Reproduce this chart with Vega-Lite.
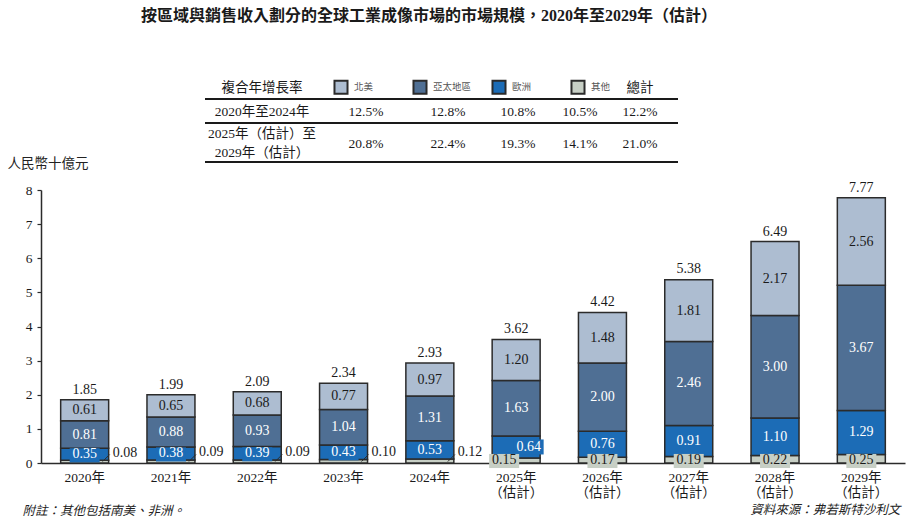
{
  "$schema": "https://vega.github.io/schema/vega-lite/v6.json",
  "autosize": {"type": "none"},
  "padding": {"left": 41, "top": 190, "right": 19, "bottom": 65},
  "width": 864,
  "height": 273,
  "background": "white",
  "title": {
    "text": "按區域與銷售收入劃分的全球工業成像市場的市場規模，2020年至2029年（估計）",
    "fontSize": 16,
    "fontWeight": "bold",
    "font": "Liberation Serif, Noto Sans CJK TC",
    "color": "#1a1a1a",
    "anchor": "middle",
    "dx": -44,
    "offset": 55
  },
  "config": {"view": {"stroke": null}},
  "datasets": {
    "main": [
      {"year": "2020", "region": "其他", "value": 0.08},
      {"year": "2020", "region": "歐洲", "value": 0.35},
      {"year": "2020", "region": "亞太地區", "value": 0.81},
      {"year": "2020", "region": "北美", "value": 0.61},
      {"year": "2021", "region": "其他", "value": 0.09},
      {"year": "2021", "region": "歐洲", "value": 0.38},
      {"year": "2021", "region": "亞太地區", "value": 0.88},
      {"year": "2021", "region": "北美", "value": 0.65},
      {"year": "2022", "region": "其他", "value": 0.09},
      {"year": "2022", "region": "歐洲", "value": 0.39},
      {"year": "2022", "region": "亞太地區", "value": 0.93},
      {"year": "2022", "region": "北美", "value": 0.68},
      {"year": "2023", "region": "其他", "value": 0.10},
      {"year": "2023", "region": "歐洲", "value": 0.43},
      {"year": "2023", "region": "亞太地區", "value": 1.04},
      {"year": "2023", "region": "北美", "value": 0.77},
      {"year": "2024", "region": "其他", "value": 0.12},
      {"year": "2024", "region": "歐洲", "value": 0.53},
      {"year": "2024", "region": "亞太地區", "value": 1.31},
      {"year": "2024", "region": "北美", "value": 0.97},
      {"year": "2025", "region": "其他", "value": 0.15},
      {"year": "2025", "region": "歐洲", "value": 0.64},
      {"year": "2025", "region": "亞太地區", "value": 1.63},
      {"year": "2025", "region": "北美", "value": 1.20},
      {"year": "2026", "region": "其他", "value": 0.17},
      {"year": "2026", "region": "歐洲", "value": 0.76},
      {"year": "2026", "region": "亞太地區", "value": 2.00},
      {"year": "2026", "region": "北美", "value": 1.48},
      {"year": "2027", "region": "其他", "value": 0.19},
      {"year": "2027", "region": "歐洲", "value": 0.91},
      {"year": "2027", "region": "亞太地區", "value": 2.46},
      {"year": "2027", "region": "北美", "value": 1.81},
      {"year": "2028", "region": "其他", "value": 0.22},
      {"year": "2028", "region": "歐洲", "value": 1.10},
      {"year": "2028", "region": "亞太地區", "value": 3.00},
      {"year": "2028", "region": "北美", "value": 2.17},
      {"year": "2029", "region": "其他", "value": 0.25},
      {"year": "2029", "region": "歐洲", "value": 1.29},
      {"year": "2029", "region": "亞太地區", "value": 3.67},
      {"year": "2029", "region": "北美", "value": 2.56}
    ],
    "totals": [
      {"year": "2020", "total": 1.85},
      {"year": "2021", "total": 1.99},
      {"year": "2022", "total": 2.09},
      {"year": "2023", "total": 2.34},
      {"year": "2024", "total": 2.93},
      {"year": "2025", "total": 3.62},
      {"year": "2026", "total": 4.42},
      {"year": "2027", "total": 5.38},
      {"year": "2028", "total": 6.49},
      {"year": "2029", "total": 7.77}
    ],
    "table": [
      {"r": 0, "c": 0, "t": "複合年增長率"},
      {"r": 0, "c": 5, "t": "總計"},
      {"r": 1, "c": 0, "t": "2020年至2024年"},
      {"r": 1, "c": 1, "t": "12.5%"},
      {"r": 1, "c": 2, "t": "12.8%"},
      {"r": 1, "c": 3, "t": "10.8%"},
      {"r": 1, "c": 4, "t": "10.5%"},
      {"r": 1, "c": 5, "t": "12.2%"},
      {"r": 2, "c": 0, "t": "2025年（估計）至\n2029年（估計）"},
      {"r": 2, "c": 1, "t": "20.8%"},
      {"r": 2, "c": 2, "t": "22.4%"},
      {"r": 2, "c": 3, "t": "19.3%"},
      {"r": 2, "c": 4, "t": "14.1%"},
      {"r": 2, "c": 5, "t": "21.0%"}
    ]
  },
  "layer": [
    {
      "data": {"name": "main"},
      "transform": [
        {"calculate": "indexof(['其他','歐洲','亞太地區','北美'], datum.region)", "as": "k"}
      ],
      "resolve": {"axis": {"x": "independent", "y": "independent"}},
      "layer": [
        {
          "mark": {"type": "bar", "stroke": "#2b2b2b", "strokeWidth": 1.5},
          "encoding": {
            "x": {
              "field": "year",
              "type": "nominal",
              "scale": {
                "domain": ["2020", "2021", "2022", "2023", "2024", "2025", "2026", "2027", "2028", "2029"],
                "paddingInner": 0.444,
                "paddingOuter": 0.228
              },
              "axis": {
                "title": "附註：其他包括南美、非洲。",
                "titleX": -19,
                "titleY": 47,
                "titleAlign": "left",
                "titleAngle": 0,
                "titleBaseline": "middle",
                "titleFontStyle": "italic",
                "titleFontWeight": "normal",
                "titleFontSize": 12.5,
                "titleFont": "Noto Sans CJK TC",
                "titleColor": "#222222",
                "labelAngle": 0,
                "ticks": false,
                "domainColor": "#2b2b2b",
                "domainWidth": 1.5,
                "labelPadding": 7,
                "labelFontSize": 13.5,
                "labelFont": "Liberation Serif, Noto Sans CJK TC",
                "labelColor": "#1a1a1a",
                "labelLineHeight": 15,
                "labelOverlap": false,
                "labelExpr": "toNumber(datum.value) >= 2025 ? [datum.value + '年', '（估計）'] : datum.value + '年'"
              }
            },
            "y": {
              "field": "value",
              "type": "quantitative",
              "stack": "zero",
              "scale": {"domain": [0, 8], "nice": false},
              "axis": {
                "title": "人民幣十億元",
                "titleAngle": 0,
                "titleAlign": "left",
                "titleX": -34,
                "titleY": -27,
                "titleBaseline": "middle",
                "titleFontSize": 13.5,
                "titleFontWeight": "normal",
                "titleFont": "Noto Sans CJK TC",
                "titleColor": "#222222",
                "values": [0, 1, 2, 3, 4, 5, 6, 7, 8],
                "labelOverlap": false,
                "grid": false,
                "tickSize": 4,
                "tickColor": "#2b2b2b",
                "tickWidth": 1.2,
                "domainColor": "#2b2b2b",
                "domainWidth": 1.5,
                "labelFontSize": 13.5,
                "labelFont": "Liberation Serif",
                "labelColor": "#1a1a1a",
                "labelPadding": 5
              }
            },
            "order": {"field": "k", "type": "quantitative", "sort": "ascending"},
            "color": {
              "field": "region",
              "type": "nominal",
              "scale": {
                "domain": ["北美", "亞太地區", "歐洲", "其他"],
                "range": ["#adbdd1", "#4f6f94", "#1c6cb6", "#c7cfc5"]
              },
              "legend": {
                "orient": "none",
                "legendX": 292,
                "legendY": -111,
                "direction": "horizontal",
                "title": null,
                "values": ["北美", "亞太地區", "歐洲", "其他"],
                "symbolType": "square",
                "symbolSize": 170,
                "symbolStrokeColor": "#2b2b2b",
                "symbolStrokeWidth": 2,
                "labelFontSize": 9.5,
                "labelFont": "Noto Sans CJK TC",
                "labelColor": "#555555",
                "labelOffset": 5,
                "columnPadding": 16,
                "gridAlign": "all",
                "columns": 4
              }
            }
          }
        },
        {
          "transform": [
            {"stack": "value", "groupby": ["year"], "sort": [{"field": "k"}], "as": ["v0", "v1"]},
            {"calculate": "(datum.v0 + datum.v1) / 2", "as": "mid"}
          ],
          "resolve": {"axis": {"x": "independent", "y": "independent"}},
          "layer": [
            {
              "transform": [{"filter": "datum.region === '北美'"}],
              "mark": {"type": "text", "font": "Liberation Serif", "fontSize": 14, "color": "#1a1a1a", "baseline": "middle"},
              "encoding": {
                "x": {"field": "year", "type": "nominal", "axis": null},
                "y": {"field": "mid", "type": "quantitative", "axis": null},
                "text": {"field": "value", "type": "quantitative", "format": ".2f"}
              }
            },
            {
              "transform": [{"filter": "datum.region === '歐洲' && toNumber(datum.year) <= 2023"}],
              "mark": {"type": "point", "shape": "M-1,-0.47L1,-0.47L1,0.47L-1,0.47Z", "size": 900, "filled": true, "opacity": 1, "color": "#1c6cb6", "yOffset": 1},
              "encoding": {
                "x": {"field": "year", "type": "nominal", "axis": null},
                "y": {"field": "mid", "type": "quantitative", "axis": null}
              }
            },
            {
              "transform": [{"filter": "datum.region === '亞太地區' || (datum.region === '歐洲' && datum.year !== '2025')"}],
              "mark": {"type": "text", "font": "Liberation Serif", "fontSize": 14, "color": "#ffffff", "baseline": "middle"},
              "encoding": {
                "x": {"field": "year", "type": "nominal", "axis": null},
                "y": {"field": "mid", "type": "quantitative", "axis": null},
                "text": {"field": "value", "type": "quantitative", "format": ".2f"}
              }
            },
            {
              "transform": [{"filter": "datum.region === '歐洲' && datum.year === '2025'"}],
              "mark": {"type": "point", "shape": "M-1,-0.5L1,-0.5L1,0.5L-1,0.5Z", "size": 900, "filled": true, "opacity": 1, "color": "#1c6cb6", "xOffset": 12.5},
              "encoding": {
                "x": {"field": "year", "type": "nominal", "axis": null},
                "y": {"field": "mid", "type": "quantitative", "axis": null}
              }
            },
            {
              "transform": [{"filter": "datum.region === '歐洲' && datum.year === '2025'"}],
              "mark": {"type": "text", "font": "Liberation Serif", "fontSize": 14, "color": "#ffffff", "baseline": "middle", "dx": 12.5},
              "encoding": {
                "x": {"field": "year", "type": "nominal", "axis": null},
                "y": {"field": "mid", "type": "quantitative", "axis": null},
                "text": {"field": "value", "type": "quantitative", "format": ".2f"}
              }
            },
            {
              "transform": [{"filter": "datum.region === '其他' && toNumber(datum.year) < 2025"}],
              "mark": {"type": "point", "shape": "M0.72,-0.06L1,-0.34", "size": 2500, "filled": false, "opacity": 1, "color": "#2b2b2b", "strokeWidth": 1},
              "encoding": {
                "x": {"field": "year", "type": "nominal", "axis": null},
                "y": {"field": "v0", "type": "quantitative", "axis": null}
              }
            },
            {
              "transform": [{"filter": "datum.region === '其他' && toNumber(datum.year) < 2025"}],
              "mark": {"type": "text", "font": "Liberation Serif", "fontSize": 14, "color": "#1a1a1a", "baseline": "middle", "align": "left", "dx": 28, "dy": -9},
              "encoding": {
                "x": {"field": "year", "type": "nominal", "axis": null},
                "y": {"field": "mid", "type": "quantitative", "axis": null},
                "text": {"field": "value", "type": "quantitative", "format": ".2f"}
              }
            },
            {
              "transform": [{"filter": "datum.region === '其他' && toNumber(datum.year) > 2025"}],
              "mark": {"type": "point", "shape": "M-1,-0.47L1,-0.47L1,0.47L-1,0.47Z", "size": 900, "filled": true, "opacity": 1, "color": "#c7cfc5", "yOffset": -2},
              "encoding": {
                "x": {"field": "year", "type": "nominal", "axis": null},
                "y": {"field": "v0", "type": "quantitative", "axis": null}
              }
            },
            {
              "transform": [{"filter": "datum.region === '其他' && toNumber(datum.year) > 2025"}],
              "mark": {"type": "text", "font": "Liberation Serif", "fontSize": 14, "color": "#1a1a1a", "baseline": "middle", "dy": -3},
              "encoding": {
                "x": {"field": "year", "type": "nominal", "axis": null},
                "y": {"field": "v0", "type": "quantitative", "axis": null},
                "text": {"field": "value", "type": "quantitative", "format": ".2f"}
              }
            },
            {
              "transform": [{"filter": "datum.region === '其他' && datum.year === '2025'"}],
              "mark": {"type": "point", "shape": "M-1,-0.47L1,-0.47L1,0.47L-1,0.47Z", "size": 900, "filled": true, "opacity": 1, "color": "#c7cfc5", "yOffset": -2, "xOffset": -12},
              "encoding": {
                "x": {"field": "year", "type": "nominal", "axis": null},
                "y": {"field": "v0", "type": "quantitative", "axis": null}
              }
            },
            {
              "transform": [{"filter": "datum.region === '其他' && datum.year === '2025'"}],
              "mark": {"type": "text", "font": "Liberation Serif", "fontSize": 14, "color": "#1a1a1a", "baseline": "middle", "dy": -3, "dx": -12},
              "encoding": {
                "x": {"field": "year", "type": "nominal", "axis": null},
                "y": {"field": "v0", "type": "quantitative", "axis": null},
                "text": {"field": "value", "type": "quantitative", "format": ".2f"}
              }
            }
          ]
        },
        {
          "data": {"name": "totals"},
          "mark": {"type": "text", "font": "Liberation Serif", "fontSize": 14, "color": "#1a1a1a", "baseline": "middle", "dy": -10},
          "encoding": {
            "x": {"field": "year", "type": "nominal", "axis": null},
            "y": {"field": "total", "type": "quantitative", "axis": null},
            "text": {"field": "total", "type": "quantitative", "format": ".2f"}
          }
        },
        {
          "data": {"values": [{"note": "資料來源：弗若斯特沙利文"}]},
          "mark": {"type": "text", "font": "Noto Sans CJK TC", "fontSize": 12.5, "fontStyle": "italic", "color": "#222222", "baseline": "middle", "align": "right", "dx": 39, "dy": 47},
          "encoding": {
            "x": {"datum": "2029", "type": "nominal", "axis": null},
            "y": {"datum": 0, "type": "quantitative", "axis": null},
            "text": {"field": "note", "type": "nominal"}
          }
        }
      ]
    },
    {
      "data": {"name": "table"},
      "encoding": {
        "x": {
          "field": "c",
          "type": "quantitative",
          "scale": {"domain": [-0.5, 0, 1, 2, 3, 4, 5, 5.5], "range": [164, 221, 325, 407, 477, 539, 599, 637], "zero": false, "nice": false},
          "axis": null
        },
        "y": {
          "field": "r",
          "type": "quantitative",
          "scale": {"domain": [0, 0.5, 1, 1.5, 2, 2.5], "range": [-102, -91, -78, -67, -46, -28], "zero": false, "nice": false},
          "axis": null
        }
      },
      "layer": [
        {
          "transform": [{"filter": "!(datum.r === 2 && datum.c === 0)"}],
          "mark": {"type": "text", "font": "Liberation Serif, Noto Sans CJK TC", "fontSize": 13.5, "color": "#1a1a1a", "baseline": "middle"},
          "encoding": {"text": {"field": "t", "type": "nominal"}}
        },
        {
          "transform": [{"filter": "datum.r === 2 && datum.c === 0"}],
          "mark": {"type": "text", "font": "Liberation Serif, Noto Sans CJK TC", "fontSize": 13.5, "color": "#1a1a1a", "baseline": "middle", "lineBreak": "\n", "lineHeight": 19, "dy": -10},
          "encoding": {"text": {"field": "t", "type": "nominal"}}
        },
        {
          "mark": {"type": "rule", "color": "#1a1a1a", "strokeWidth": 2},
          "encoding": {"x": {"datum": -0.5, "type": "quantitative"}, "x2": {"datum": 5.5}, "y": {"datum": 0.5, "type": "quantitative"}}
        },
        {
          "mark": {"type": "rule", "color": "#1a1a1a", "strokeWidth": 1},
          "encoding": {"x": {"datum": -0.5, "type": "quantitative"}, "x2": {"datum": 5.5}, "y": {"datum": 1.5, "type": "quantitative"}}
        },
        {
          "mark": {"type": "rule", "color": "#1a1a1a", "strokeWidth": 2},
          "encoding": {"x": {"datum": -0.5, "type": "quantitative"}, "x2": {"datum": 5.5}, "y": {"datum": 2.5, "type": "quantitative"}}
        }
      ]
    }
  ],
  "resolve": {"scale": {"x": "independent", "y": "independent"}, "axis": {"x": "independent", "y": "independent"}}
}
